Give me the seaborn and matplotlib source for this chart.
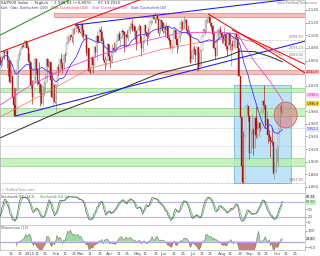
import numpy as np
import pandas as pd
import matplotlib
matplotlib.use("Agg")
import matplotlib.pyplot as plt
import seaborn as sns
from matplotlib.patches import Rectangle, Ellipse

# ---------------- data ----------------
holidays = ["2014-12-25", "2015-01-01", "2015-01-19", "2015-02-16", "2015-04-03",
            "2015-05-25", "2015-07-03", "2015-09-07", "2015-11-26"]
first_open = 2065.0
closes = [
    # Dec 2014
    2053.4, 2066.6, 2074.3, 2071.9, 2075.4, 2060.3, 2059.8, 2026.1, 2035.3, 2002.3, 1989.6,
    1972.7, 2012.9, 2061.2, 2070.7, 2078.5, 2082.2, 2081.9, 2088.8, 2090.6, 2080.4, 2058.9,
    # Jan
    2058.2, 2020.6, 2002.6, 2025.9, 2062.1, 2044.8, 2028.3, 2023.0, 2011.3, 1992.7, 2019.4,
    2022.6, 2032.1, 2063.2, 2051.8, 2057.1, 2029.6, 2002.2, 2021.3, 1995.0,
    # Feb
    2020.9, 2050.0, 2041.5, 2062.5, 2055.5, 2046.7, 2068.6, 2068.5, 2088.5, 2096.9, 2100.3,
    2099.7, 2097.5, 2110.3, 2109.7, 2115.5, 2113.9, 2110.7, 2104.5,
    # Mar
    2117.4, 2107.8, 2098.5, 2101.0, 2071.3, 2079.4, 2044.2, 2040.2, 2065.9, 2053.4, 2081.2,
    2074.3, 2099.5, 2089.3, 2108.1, 2104.4, 2091.5, 2061.1, 2056.2, 2061.0, 2086.2, 2067.9,
    # Apr
    2059.7, 2066.9, 2080.6, 2076.3, 2081.9, 2091.2, 2102.1, 2092.4, 2095.8, 2106.6, 2104.9,
    2081.2, 2100.4, 2097.3, 2107.9, 2112.9, 2117.7, 2108.9, 2114.8, 2106.8, 2085.5,
    # May
    2108.3, 2114.5, 2089.5, 2080.2, 2088.0, 2116.1, 2105.3, 2099.1, 2098.5, 2121.1, 2122.7,
    2129.2, 2127.8, 2125.9, 2130.8, 2126.1, 2104.2, 2123.5, 2120.8, 2107.4,
    # Jun
    2111.7, 2109.6, 2114.1, 2095.8, 2092.8, 2079.3, 2080.2, 2105.2, 2108.9, 2094.1, 2084.4,
    2096.3, 2100.4, 2121.2, 2110.0, 2122.9, 2124.2, 2108.6, 2102.3, 2101.5, 2057.6, 2063.1,
    # Jul
    2077.4, 2076.8, 2068.8, 2081.3, 2046.7, 2051.3, 2076.6, 2099.6, 2109.0, 2107.4, 2124.3,
    2126.6, 2128.3, 2119.2, 2114.2, 2102.2, 2079.7, 2067.6, 2093.3, 2108.6, 2108.6, 2103.8,
    # Aug
    2098.0, 2093.3, 2099.8, 2083.6, 2077.6, 2104.2, 2084.1, 2086.1, 2083.4, 2091.5, 2102.4,
    2096.9, 2079.6, 2035.7, 1970.9, 1893.2, 1867.6, 1940.5, 1987.7, 1988.9, 1972.2,
    # Sep
    1913.9, 1948.9, 1951.1, 1921.2, 1969.4, 1942.0, 1952.3, 1961.1, 1953.0, 1978.1, 1995.3,
    1990.2, 1958.0, 1967.0, 1942.7, 1938.8, 1932.2, 1931.3, 1881.8, 1884.1, 1920.0,
    # Oct
    1923.8, 1951.4, 1987.1, 1979.9, 1995.8,
]
highs = [
    2065, 2068, 2076, 2077, 2079, 2076, 2060, 2058, 2056, 2032, 2018, 2016, 2016, 2061, 2077,
    2079, 2086, 2087, 2093, 2091, 2089, 2085,
    2072, 2054, 2030, 2030, 2064, 2064, 2049, 2057, 2018, 2021, 2020, 2028, 2038, 2064, 2062,
    2058, 2047, 2042, 2024, 2023,
    2021, 2050, 2054, 2063, 2072, 2056, 2070, 2073, 2089, 2097, 2101, 2100, 2102, 2111, 2111,
    2117, 2120, 2115, 2113,
    2117, 2115, 2107, 2104, 2100, 2082, 2076, 2050, 2066, 2065, 2081, 2080, 2106, 2099, 2113,
    2114, 2107, 2097, 2067, 2063, 2088, 2084,
    2068, 2072, 2086, 2089, 2086, 2093, 2102, 2107, 2098, 2111, 2107, 2095, 2104, 2109, 2109,
    2120, 2121, 2125, 2117, 2113, 2106,
    2108, 2120, 2115, 2099, 2092, 2117, 2117, 2105, 2111, 2121, 2124, 2131, 2134, 2135, 2131,
    2132, 2126, 2126, 2123, 2121,
    2119, 2117, 2121, 2112, 2100, 2093, 2086, 2109, 2115, 2103, 2091, 2097, 2106, 2126, 2121,
    2130, 2127, 2125, 2116, 2108, 2095, 2075,
    2083, 2085, 2074, 2082, 2074, 2074, 2082, 2100, 2111, 2115, 2125, 2127, 2133, 2129, 2121,
    2116, 2107, 2078, 2095, 2110, 2111, 2114,
    2105, 2102, 2113, 2104, 2082, 2105, 2103, 2087, 2093, 2092, 2103, 2103, 2094, 2074, 2034,
    1965, 1948, 1943, 1989, 1993, 1986,
    1970, 1949, 1975, 1948, 1970, 1988, 1965, 1961, 1963, 1983, 1997, 2021, 1989, 1981, 1953,
    1950, 1937, 1953, 1930, 1899, 1920,
    1927, 1951, 1989, 1992, 1999,
]
lows = [
    2050, 2054, 2066, 2063, 2071, 2049, 2035, 2024, 2029, 2002, 1982, 1972, 1973, 2018, 2061,
    2069, 2078, 2081, 2083, 2083, 2080, 2058,
    2046, 2017, 1992, 2005, 2026, 2038, 2022, 2008, 1988, 1991, 1988, 2004, 2012, 2026, 2050,
    2041, 2019, 2001, 1989, 1993,
    1981, 2022, 2036, 2043, 2049, 2041, 2048, 2057, 2069, 2086, 2089, 2092, 2090, 2085, 2102,
    2105, 2111, 2103, 2103,
    2099, 2098, 2094, 2095, 2067, 2071, 2044, 2040, 2041, 2040, 2055, 2065, 2061, 2088, 2090,
    2104, 2091, 2061, 2045, 2052, 2061, 2067,
    2048, 2057, 2056, 2076, 2074, 2074, 2091, 2092, 2084, 2097, 2101, 2073, 2082, 2096, 2091,
    2104, 2112, 2107, 2098, 2094, 2077,
    2087, 2109, 2088, 2067, 2074, 2092, 2104, 2085, 2096, 2100, 2116, 2120, 2125, 2120, 2120,
    2126, 2099, 2105, 2112, 2104,
    2103, 2099, 2109, 2093, 2086, 2079, 2072, 2081, 2106, 2092, 2072, 2079, 2089, 2101, 2109,
    2113, 2120, 2108, 2101, 2097, 2056, 2057,
    2068, 2071, 2058, 2044, 2045, 2049, 2057, 2078, 2099, 2102, 2110, 2119, 2124, 2115, 2110,
    2099, 2078, 2063, 2069, 2095, 2095, 2102,
    2088, 2088, 2095, 2077, 2068, 2078, 2076, 2052, 2076, 2080, 2079, 2094, 2070, 2035, 1971,
    1867, 1867, 1872, 1943, 1975, 1965,
    1904, 1916, 1944, 1911, 1928, 1938, 1937, 1939, 1948, 1954, 1977, 1984, 1953, 1961, 1929,
    1933, 1908, 1926, 1880, 1872, 1888,
    1900, 1893, 1951, 1977, 1976,
]

# moving averages read as anchor points (trading-day index, price)
ma50_days = [0, 23, 46, 76, 106, 137, 167, 180, 192, 205, 214]
ma50_vals = [1990, 2021, 2045, 2069, 2089, 2104, 2105, 2102, 2061, 2026, 1998]
ma100_days = [0, 38, 68, 99, 121, 152, 178, 193, 208, 214]
ma100_vals = [1971, 2013, 2048, 2064, 2077, 2089, 2096, 2089, 2074, 2067]
ma200_days = [0, 45, 89, 121, 152, 171, 182, 193, 205, 214]
ma200_vals = [1938, 1979, 2013, 2040, 2056, 2066, 2075, 2074, 2066, 2058]

red_zones = [(2129.0, 2135.3, 54 / 305), (2038.8, 2045.1, 0.0)]
green_zones = [(2010.3, 2016.6), (1972.3, 1985.0), (1893.2, 1905.9)]
dotted_levels = [(1972.3, "#b07fe0", 11), (1953.3, "#b8b8b8", 0), (1925.0, "#c0c0c0", 0),
                 (1866.3, "#b07fe0", 0), (2092.5, "#b0b0b0", 186), (2075.1, "#b0b0b0", 186),
                 (2063.5, "#b0b0b0", 186)]
level_texts = [(2092.5, "2,092.57"), (2075.1, "2,075.13"), (2063.5, "2,063.52"), (1866.3, "1,867.01")]
trend_lines = [  # (day0, price0, day1, price1, colour, end_day)
    (0, 2100.5, 40.2, 2143.2, "#2e8b2e", 60),
    (0, 2073.6, 81.1, 2136.8, "#e01010", 110),
    (56.9, 2116.3, 189.6, 2149.5, "#1a1ae6", 231),
    (11.4, 1972.3, 219.9, 2084.6, "#1a1ae6", 231),
    (157.7, 2133.7, 227.5, 2045.1, "#e01010", 231),
    (175.9, 2108.4, 227.5, 2057.7, "#e01010", 231),
]
box = (177.4, 1866.3, 220.6, 2021.4)
ellipse = (216.5, 1974.0, 17.4, 41.0)
price_ticks = [1860, 1880, 1900, 1920, 1940, 1960, 1980, 2020, 2060, 2080, 2100, 2120, 2140]

# ---------------- derived ----------------
n = len(closes)
dates = pd.bdate_range("2014-12-01", "2015-11-06", freq="C", holidays=holidays)
df = pd.DataFrame({"day": np.arange(n), "close": closes, "high": highs, "low": lows})
df["open"] = [first_open] + closes[:-1]
df["high"] = df[["high", "open", "close"]].max(axis=1)
df["low"] = df[["low", "open", "close"]].min(axis=1)
df["ma20"] = df["close"].rolling(20, min_periods=1).mean()
lo14 = df["low"].rolling(14, min_periods=1).min()
hi14 = df["high"].rolling(14, min_periods=1).max()
fastk = 100 * (df["close"] - lo14) / (hi14 - lo14)
df["k"] = fastk.rolling(3, min_periods=1).mean()
df["d"] = df["k"].rolling(3, min_periods=1).mean()
df["mom"] = df["close"] - df["close"].shift(12)

# ---------------- figure ----------------
sns.set_theme(style="white")
plt.rcParams["font.family"] = ["DejaVu Sans"]
W, H = 320, 256
fig = plt.figure(figsize=(3.2, 2.56), dpi=100)
fig.patch.set_facecolor("white")

def fy(y):
    return 1 - y / H

ax = fig.add_axes([0, fy(193), 305 / W, 193 / H])
ax_st = fig.add_axes([0, fy(225), 305 / W, 32 / H], sharex=ax)
ax_mo = fig.add_axes([0, fy(250), 305 / W, 25 / H], sharex=ax)
XMIN, XMAX = -0.4, 231.2

for a in (ax, ax_st, ax_mo):
    a.set_facecolor("white")
    for s in a.spines.values():
        s.set_color("#b5b5b5")
        s.set_linewidth(0.5)
    a.yaxis.tick_right()
    a.tick_params(axis="y", labelsize=2.8, length=1.2, pad=0.8, colors="#555555", width=0.4)
    a.tick_params(axis="x", labelsize=3, length=1.0, pad=0.6, colors="#555555", width=0.4)

# zones
ax.add_patch(Rectangle((box[0], box[1]), box[2] - box[0], box[3] - box[1],
                       facecolor="#bfe3f6", edgecolor="#79b8e0", lw=0.6, zorder=1))
for lo, hi, x0 in red_zones:
    ax.axhspan(lo, hi, xmin=x0, xmax=1, facecolor="#f6b3b3", edgecolor="#e07070", lw=0.5,
               alpha=0.85, zorder=1.2)
for lo, hi in green_zones:
    ax.axhspan(lo, hi, facecolor="#b6f0ac", edgecolor="#6cc46c", lw=0.5, alpha=0.75, zorder=1.2)
for lvl, colr, x0 in dotted_levels:
    ax.hlines(lvl, x0, XMAX, colors=colr, linestyles=(0, (1, 1)), lw=0.5, zorder=1.5)

# candles
up = df["close"] >= df["open"]
wick_col = np.where(up, "#8c8c8c", "#a81515")
ax.vlines(df["day"], df["low"], df["high"], colors=wick_col, lw=0.45, zorder=3)
ax.bar(df["day"], np.maximum((df["close"] - df["open"]).abs(), 0.8),
       bottom=df[["open", "close"]].min(axis=1), width=0.8,
       color=np.where(up, "#ffffff", "#a81515"), edgecolor=wick_col, linewidth=0.3, zorder=4)

# moving averages
sns.lineplot(x=ma200_days, y=ma200_vals, ax=ax, color="#2b2b2b", lw=0.7, zorder=5)
sns.lineplot(x=ma100_days, y=ma100_vals, ax=ax, color="#ff6a6a", lw=0.5, zorder=5)
sns.lineplot(x=ma50_days, y=ma50_vals, ax=ax, color="#ff3fd0", lw=0.6, zorder=5)
sns.lineplot(data=df, x="day", y="ma20", ax=ax, color="#3b3bff", lw=0.6, zorder=5)

# trend lines
for d0, p0, d1, p1, colr, dend in trend_lines:
    slope = (p1 - p0) / (d1 - d0)
    ax.plot([d0, dend], [p0, p0 + slope * (dend - d0)], color=colr, lw=0.75, zorder=6)

ax.add_patch(Ellipse((ellipse[0], ellipse[1]), ellipse[2], ellipse[3],
                     facecolor=(0.86, 0.42, 0.42, 0.5), edgecolor="#d06060", lw=0.6, zorder=7))

ax.set_ylim(1850.5, 2155.8)
ax.set_yticks(price_ticks)
ax.set_yticklabels([f"{v:,}" for v in price_ticks])
ax.tick_params(axis="x", labelbottom=False, length=0)
ax.set_xlabel("")
ax.set_ylabel("")

def tag(a, y, text, fc, tc="#222222"):
    a.text(1.004, y, text, transform=a.get_yaxis_transform(), fontsize=2.3, color=tc,
           va="center", ha="left", zorder=10,
           bbox=dict(boxstyle="square,pad=0.12", fc=fc, ec=fc, lw=0.3))

tag(ax, 2005, f"{ma50_vals[-1]:,.1f}", "#ffd6f4", "#c0189a")
tag(ax, 1992, f"{closes[-1]:,.1f}", "#f2d64a")
tag(ax, df["ma20"].iloc[-1], f"{df['ma20'].iloc[-1]:,.1f}", "#e6e6ff", "#2a2ae0")
tag(ax, 2042, "2,041.9", "#f7b0b0", "#a01010")
for lvl, txt in level_texts:
    ax.text(230.5, lvl + 1.6, txt, fontsize=2.4, color="#666666", ha="right", va="bottom", zorder=8)

# headers
fig.text(1 / W, fy(3.2), "S&P500 Index  ·  Täglich  ·  1.995,83 (+0,80%)  ·  07.10.2015",
         fontsize=2.8, color="#333333", va="center")
fig.text(318 / W, fy(3.2), "www.ProRealTime.com", fontsize=2.6, color="#777777",
         va="center", ha="right")
legend_items = [(1, "Kurs · Glatt. Durchschnitt (200)", "#333366"),
                (51, "Glatt. Durchschnitt (100)", "#e03030"),
                (92, "Glatt. Durchschnitt (50)", "#e030b0"),
                (131, "Glatt. Durchschnitt (20)", "#3030e0")]
for x, txt, colr in legend_items:
    fig.text(x / W, fy(7.6), txt, fontsize=2.2, color=colr, va="center")
fig.text(1 / W, fy(190), "© ProRealTime.com", fontsize=2.4, color="#888888", va="center")

# stochastic
ax_st.axhline(80, color="#b4b4ea", lw=0.8, zorder=1)
ax_st.axhline(20, color="#b4b4ea", lw=0.8, zorder=1)
sns.lineplot(data=df, x="day", y="d", ax=ax_st, color="#5cbf5c", lw=0.55, zorder=3)
sns.lineplot(data=df, x="day", y="k", ax=ax_st, color="#505050", lw=0.45, zorder=4)
ax_st.set_ylim(-11.4, 114)
ax_st.set_yticks([0, 20, 50])
ax_st.tick_params(axis="x", labelbottom=False, length=0)
ax_st.set_xlabel("")
ax_st.set_ylabel("")
ax_st.text(0.004, 0.93, "Stochastik %K (14,3)", transform=ax_st.transAxes, fontsize=2.3,
           color="#555555", va="top")
ax_st.text(0.13, 0.93, "Stochastik %D (3)", transform=ax_st.transAxes, fontsize=2.3,
           color="#3a9a3a", va="top")
tag(ax_st, 100, f"{df['k'].iloc[-1]:.2f}", "#eeeeee")
tag(ax_st, 78, f"{df['d'].iloc[-1]:.2f}", "#c8f0c8", "#2a802a")

# momentum
m = df["mom"]
ax_mo.fill_between(df["day"], 0, m, where=m >= 0, interpolate=True, color="#9ed89e", lw=0, zorder=2)
ax_mo.fill_between(df["day"], 0, m, where=m < 0, interpolate=True, color="#c88080", lw=0, zorder=2)
sns.lineplot(data=df, x="day", y="mom", ax=ax_mo, color="#6a6a6a", lw=0.35, zorder=3)
ax_mo.axhline(0, color="#a4a4e6", lw=0.8, zorder=4)
ax_mo.set_ylim(-75, 150)
ax_mo.set_yticks([-50, 100])
ax_mo.set_xlabel("")
ax_mo.set_ylabel("")
ax_mo.text(0.004, 0.95, "Momentum (12)", transform=ax_mo.transAxes, fontsize=2.4,
           color="#555555", va="top")
tag(ax_mo, 25, f"{m.iloc[-1]:.2f}", "#eeeeee")

# date ticks
pos_series = pd.Series(np.arange(len(dates)), index=dates)
tick_pos, tick_lab = [], []
for (yr, mo), grp in pos_series.groupby([dates.year, dates.month]):
    idx = grp.index
    tick_pos.append(grp.iloc[0])
    tick_lab.append("2015" if (yr == 2015 and mo == 1) else idx[0].strftime("%b"))
    for day in (11, 21):
        sel = grp[idx.day >= day]
        if len(sel):
            tick_pos.append(sel.iloc[0])
            tick_lab.append(str(day))
keep = [(p, l) for p, l in zip(tick_pos, tick_lab) if XMIN + 1 <= p <= XMAX - 1]
ax_mo.set_xticks([p for p, _ in keep])
ax_mo.set_xticklabels([l for _, l in keep])
ax_mo.set_xlim(XMIN, XMAX)

fig.savefig("out.png", dpi=100, facecolor="white")
